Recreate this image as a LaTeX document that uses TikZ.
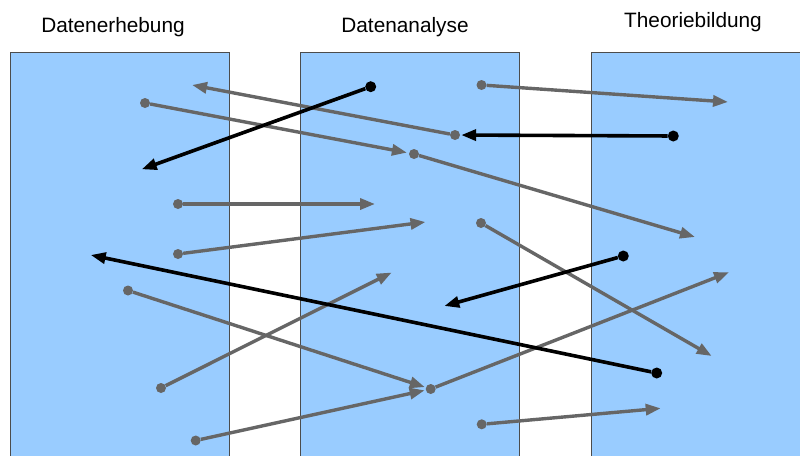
\documentclass[tikz,border=0pt]{standalone}
\usepackage{fontspec}
\setmainfont{Liberation Sans}
\usepackage{tikz}
\usetikzlibrary{arrows.meta}
\definecolor{phase-blue}{HTML}{99CCFF}
\definecolor{link-gray}{HTML}{666666}

\begin{document}
\begin{tikzpicture}[x=1pt, y=-1pt,
    phase/.style={fill=phase-blue, draw=black!70, line width=0.8pt},
    title/.style={font=\fontsize{20.8}{24}\selectfont},
    gdot/.style={circle, fill=link-gray, inner sep=0pt, minimum size=10pt},
    bdot/.style={circle, fill=black, inner sep=0pt, minimum size=11pt},
    glink/.style={draw=link-gray, line width=3.4pt, -{Triangle[length=15pt, width=11pt]}},
    blink/.style={draw=black, line width=3.6pt, -{Triangle[length=15pt, width=11pt]}}]
    \useasboundingbox (0,0) rectangle (800,455);

    % the three phases
    \path[phase] (10,52) rectangle (229,462);
    \path[phase] (300,52) rectangle (519,462);
    \path[phase] (591,52) rectangle (808,462);
    \node[title] (t-erhebung) at (113,27) {Datenerhebung};
    \node[title] (t-analyse) at (405,27) {Datenanalyse};
    \node[title] (t-theorie) at (693,22) {Theoriebildung};

    % start points
    \node[gdot] (g1) at (145,103) {};
    \node[gdot] (g2) at (414,154) {};
    \node[gdot] (g3) at (455,135) {};
    \node[gdot] (g4) at (481.5,85) {};
    \node[gdot] (g5) at (178,204) {};
    \node[gdot] (g6) at (178,254) {};
    \node[gdot] (g7) at (128,290.5) {};
    \node[gdot] (g8) at (161,388) {};
    \node[gdot] (g9) at (195.7,440.5) {};
    \node[gdot] (g10) at (430.7,389) {};
    \node[gdot] (g11) at (481,223) {};
    \node[gdot] (g12) at (481.7,424.3) {};
    \node[bdot] (b1) at (370.7,86.7) {};
    \node[bdot] (b2) at (673.3,136) {};
    \node[bdot] (b3) at (623.3,256) {};
    \node[bdot] (b4) at (656.7,373) {};

    % free ends
    \coordinate (g2e) at (695,237);
    \coordinate (g3e) at (192,85);
    \coordinate (g4e) at (728,102);
    \coordinate (g5e) at (375,204);
    \coordinate (g6e) at (425.5,222);
    \coordinate (g8e) at (391.7,272.5);
    \coordinate (g10e) at (729,272.3);
    \coordinate (g11e) at (711.7,356);
    \coordinate (g12e) at (660.7,408.3);
    \coordinate (b1e) at (141.7,169.3);
    \coordinate (b3e) at (444.3,306);
    \coordinate (b4e) at (90.7,255);

    % gray links
    \draw[glink, shorten >=2pt] (g1) -- (g2);
    \draw[glink] (g2) -- (g2e);
    \draw[glink] (g3) -- (g3e);
    \draw[glink] (g4) -- (g4e);
    \draw[glink] (g5) -- (g5e);
    \draw[glink] (g6) -- (g6e);
    \draw[glink, shorten >=1pt] (g7) -- (g10);
    \draw[glink] (g8) -- (g8e);
    \draw[glink, shorten >=1pt] (g9) -- (g10);
    \draw[glink] (g10) -- (g10e);
    \draw[glink] (g11) -- (g11e);
    \draw[glink] (g12) -- (g12e);

    % black links
    \draw[blink] (b1) -- (b1e);
    \draw[blink, shorten >=1pt] (b2) -- (g3);
    \draw[blink] (b3) -- (b3e);
    \draw[blink] (b4) -- (b4e);
\end{tikzpicture}
\end{document}
